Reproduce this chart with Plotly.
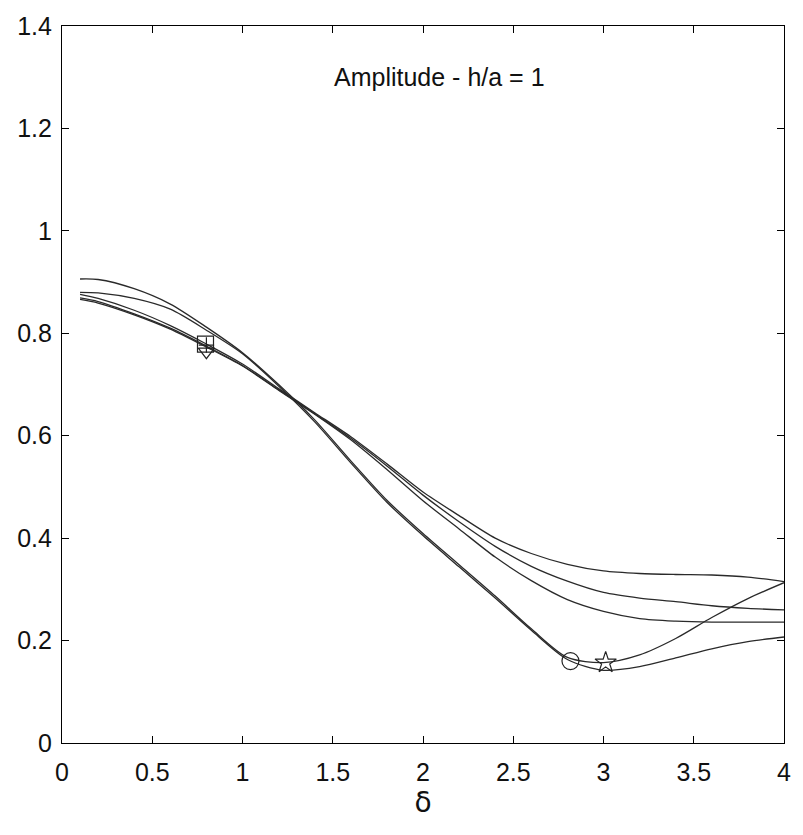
import plotly.graph_objects as go

# ---- data ----
delta = [0.1, 0.2, 0.4, 0.6, 0.8, 1.0, 1.2, 1.4, 1.6, 1.8, 2.0,
         2.2, 2.4, 2.6, 2.8, 3.0, 3.2, 3.4, 3.6, 3.8, 4.0]

curve_a = [0.906, 0.905, 0.887, 0.857, 0.812, 0.762, 0.700, 0.631, 0.551, 0.474, 0.409,
           0.348, 0.287, 0.223, 0.167, 0.157, 0.172, 0.204, 0.245, 0.282, 0.313]
curve_b = [0.880, 0.879, 0.868, 0.847, 0.806, 0.760, 0.697, 0.627, 0.547, 0.470, 0.405,
           0.344, 0.283, 0.220, 0.163, 0.142, 0.149, 0.166, 0.184, 0.198, 0.207]
curve_c = [0.876, 0.868, 0.845, 0.815, 0.779, 0.740, 0.692, 0.645, 0.598, 0.545, 0.490,
           0.444, 0.400, 0.370, 0.349, 0.336, 0.331, 0.329, 0.328, 0.324, 0.315]
curve_d = [0.869, 0.862, 0.838, 0.810, 0.775, 0.737, 0.690, 0.643, 0.595, 0.541, 0.484,
           0.432, 0.384, 0.345, 0.316, 0.294, 0.283, 0.276, 0.268, 0.263, 0.260]
curve_e = [0.866, 0.859, 0.836, 0.808, 0.773, 0.736, 0.689, 0.642, 0.592, 0.534, 0.473,
           0.418, 0.363, 0.317, 0.280, 0.257, 0.243, 0.238, 0.236, 0.236, 0.236]

# marker points
sq_x, sq_y = [0.795], [0.779]
plus_x, plus_y = [0.80], [0.777]
tri_x, tri_y = [0.80], [0.764]
circ_x, circ_y = [2.817], [0.160]
star_x, star_y = [3.012], [0.157]

x_ticks = [0, 0.5, 1, 1.5, 2, 2.5, 3, 3.5, 4]
x_ticktext = ["0", "0.5", "1", "1.5", "2", "2.5", "3", "3.5", "4"]
y_ticks = [0, 0.2, 0.4, 0.6, 0.8, 1.0, 1.2, 1.4]
y_ticktext = ["0", "0.2", "0.4", "0.6", "0.8", "1", "1.2", "1.4"]

title_text = "Amplitude - h/a = 1"
x_title = "δ"

line_col = "#2a2a2a"
fig = go.Figure()
for ys in [curve_a, curve_b, curve_c, curve_d, curve_e]:
    fig.add_trace(go.Scatter(x=delta, y=ys, mode="lines",
                             line=dict(color=line_col, width=1.3, shape="spline", smoothing=0.8),
                             showlegend=False, hoverinfo="skip"))

mk_line = dict(color="#222222", width=1.2)
fig.add_trace(go.Scatter(x=sq_x, y=sq_y, mode="markers",
                         marker=dict(symbol="square-open", size=16, line=mk_line, color="#222222"),
                         showlegend=False))
fig.add_trace(go.Scatter(x=plus_x, y=plus_y, mode="markers",
                         marker=dict(symbol="cross-thin-open", size=11, line=mk_line, color="#222222"),
                         showlegend=False))
fig.add_trace(go.Scatter(x=tri_x, y=tri_y, mode="markers",
                         marker=dict(symbol="triangle-down-open", size=14, line=mk_line, color="#222222"),
                         showlegend=False))
fig.add_trace(go.Scatter(x=circ_x, y=circ_y, mode="markers",
                         marker=dict(symbol="circle-open", size=17, line=mk_line, color="#222222"),
                         showlegend=False))
fig.add_trace(go.Scatter(x=star_x, y=star_y, mode="markers",
                         marker=dict(symbol="star-open", size=16, line=mk_line, color="#222222"),
                         showlegend=False))

fig.add_annotation(x=2.09, y=1.30, xref="x", yref="y", text=title_text, showarrow=False,
                   font=dict(family="Liberation Sans, Arial, sans-serif", size=25, color="#111111"),
                   xanchor="center", yanchor="middle")

axis_common = dict(showline=True, linecolor="black", linewidth=1.2, mirror="ticks",
                   ticks="inside", ticklen=7, tickwidth=1.2, tickcolor="black",
                   showgrid=False, zeroline=False,
                   tickfont=dict(family="Liberation Sans, Arial, sans-serif", size=25, color="#111111"))

fig.update_layout(
    width=803, height=835,
    margin=dict(l=62, r=19, t=22, b=92),
    paper_bgcolor="white", plot_bgcolor="white",
    xaxis=dict(range=[0, 4], tickvals=x_ticks, ticktext=x_ticktext,
               title=dict(text=x_title, standoff=4,
                          font=dict(family="DejaVu Sans, sans-serif", size=28, color="#111111")),
               ticklabelstandoff=7, **axis_common),
    yaxis=dict(range=[0, 1.4], tickvals=y_ticks, ticktext=y_ticktext,
               ticklabelstandoff=4, **axis_common),
)

fig.write_html("out.html")
